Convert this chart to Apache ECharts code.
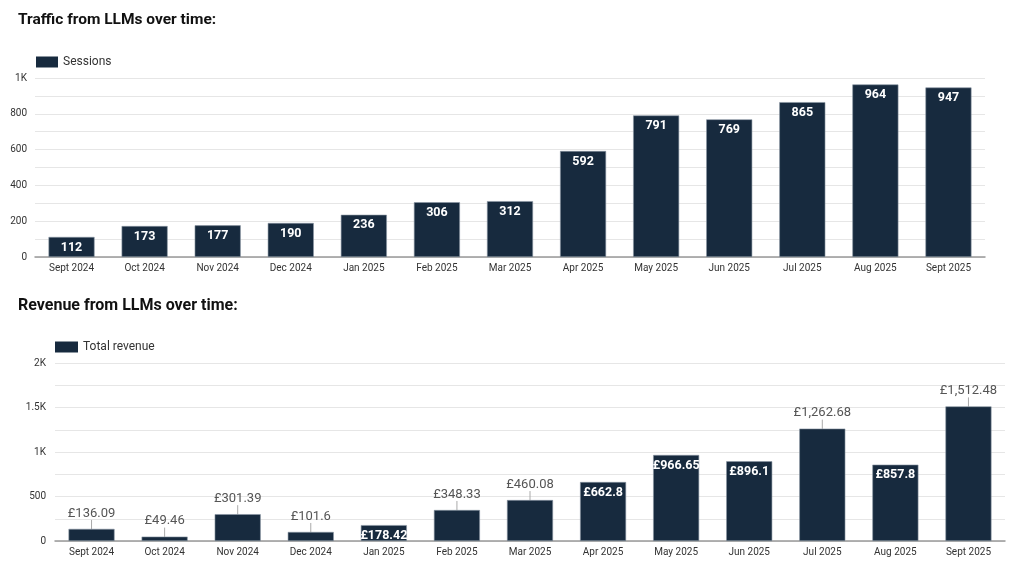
<!DOCTYPE html>
<html>
<head>
<meta charset="utf-8">
<script src="https://cdn.jsdelivr.net/npm/echarts@6/dist/echarts.min.js"></script>
<style>html,body{margin:0;padding:0;background:#fff}#c{width:1024px;height:583px}</style>
</head>
<body>
<div id="c"></div>
<script>
const months = ['Sept 2024','Oct 2024','Nov 2024','Dec 2024','Jan 2025','Feb 2025','Mar 2025','Apr 2025','May 2025','Jun 2025','Jul 2025','Aug 2025','Sept 2025'];
const sessions = [112,173,177,190,236,306,312,592,791,769,865,964,947];
const revenue = [136.09,49.46,301.39,101.6,178.42,348.33,460.08,662.8,966.65,896.1,1262.68,857.8,1512.48];
const revenueInside = [false,false,false,false,true,false,false,true,true,true,false,true,false];
const trafficTitle = 'Traffic from LLMs over time:';
const revenueTitle = 'Revenue from LLMs over time:';

const barColor = '#172a3e';
const font = 'Roboto';
const fmtK = v => v === 0 ? '0' : (v >= 1000 ? (v/1000) + 'K' : String(v));

const chart = echarts.init(document.getElementById('c'));
const revData = revenue.map((v, i) => {
  const inside = revenueInside[i];
  return {
    value: v,
    label: inside ? {
      position: 'insideTop', distance: 4, color: '#fff', fontWeight: 'bold', fontSize: 12.5
    } : {
      position: 'top', distance: 0, color: '#555', fontWeight: 'normal', fontSize: 13
    },
    labelLine: { show: !inside, length2: 0, lineStyle: { color: '#aaa', width: 1 } }
  };
});

chart.setOption({
  animation: false,
  textStyle: { fontFamily: font },
  title: [
    { text: trafficTitle, left: 13, top: 7, textStyle: { fontFamily: font, fontSize: 15.5, fontWeight: 'bold', color: '#111' } },
    { text: revenueTitle, left: 13, top: 293, textStyle: { fontFamily: font, fontSize: 16, fontWeight: 'bold', color: '#111' } }
  ],
  legend: [
    { data: ['Sessions'], left: 31, top: 51, itemWidth: 22, itemHeight: 11, itemGap: 5, icon: 'rect',
      itemStyle: { borderWidth: 0 },
      textStyle: { fontFamily: font, fontSize: 12, color: '#333' } },
    { data: ['Total revenue'], left: 50, top: 336, itemWidth: 23, itemHeight: 11, itemGap: 5, icon: 'rect',
      itemStyle: { borderWidth: 0 },
      textStyle: { fontFamily: font, fontSize: 12, color: '#333' } }
  ],
  grid: [
    { left: 35, right: 39, top: 78, height: 179 },
    { left: 55, right: 19, top: 363, height: 178 }
  ],
  xAxis: [
    { type: 'category', gridIndex: 0, data: months,
      axisLine: { lineStyle: { color: '#999', width: 1.5 } }, axisTick: { show: false },
      axisLabel: { fontSize: 10, color: '#333', margin: 6, interval: 0 } },
    { type: 'category', gridIndex: 1, data: months,
      axisLine: { lineStyle: { color: '#999', width: 1.5 } }, axisTick: { show: false },
      axisLabel: { fontSize: 10, color: '#333', margin: 6, interval: 0 } }
  ],
  yAxis: [
    { type: 'value', gridIndex: 0, min: 0, max: 1000, interval: 100,
      axisLine: { show: false }, axisTick: { show: false },
      splitLine: { lineStyle: { color: '#e6e6e6' } },
      axisLabel: { fontSize: 10, color: '#333', margin: 8, formatter: v => (v % 200 === 0 ? fmtK(v) : '') } },
    { type: 'value', gridIndex: 1, min: 0, max: 2000, interval: 250,
      axisLine: { show: false }, axisTick: { show: false },
      splitLine: { lineStyle: { color: '#e6e6e6' } },
      axisLabel: { fontSize: 10, color: '#333', margin: 9, formatter: v => (v % 500 === 0 ? fmtK(v) : '') } }
  ],
  series: [
    { name: 'Sessions', type: 'bar', xAxisIndex: 0, yAxisIndex: 0, data: sessions,
      barCategoryGap: '37%',
      itemStyle: { color: barColor, borderColor: '#8a96a3', borderWidth: 0.6 },
      label: { show: true, position: 'insideTop', distance: 4, color: '#fff', fontWeight: 'bold', fontSize: 12.5 } },
    { name: 'Total revenue', type: 'bar', xAxisIndex: 1, yAxisIndex: 1, data: revData,
      barCategoryGap: '37%',
      itemStyle: { color: barColor, borderColor: '#8a96a3', borderWidth: 0.6 },
      label: { show: true, formatter: p => '£' + p.value.toLocaleString('en-GB') },
      labelLayout: p => (revenueInside[p.dataIndex] ? {} : { dy: -9 }) }
  ]
});
</script>
</body>
</html>
